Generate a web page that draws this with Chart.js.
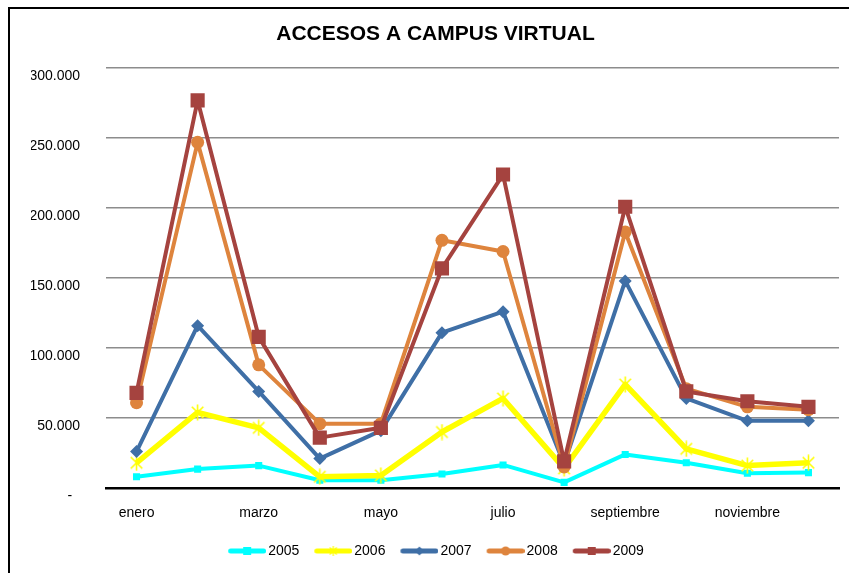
<!DOCTYPE html>
<html><head><meta charset="utf-8">
<script src="https://cdn.jsdelivr.net/npm/chart.js@4"></script>
<style>
html,body{margin:0;padding:0;background:#fff;overflow:hidden;width:849px;height:573px;}
#frame{position:absolute;left:8px;top:7px;width:900px;height:700px;border:2px solid #000;box-sizing:border-box;}
#wrap{position:absolute;left:0;top:0;width:849px;height:573px;}
</style></head><body>
<div id="frame"></div>
<div id="wrap"><canvas id="c" width="849" height="573"></canvas></div>
<script>
// ---- data ----
const months = ['enero','febrero','marzo','abril','mayo','junio','julio','agosto','septiembre','octubre','noviembre','diciembre'];
const xTickLabels = ['enero','','marzo','','mayo','','julio','','septiembre','','noviembre',''];
const yTickLabels = ['-  ','50.000','100.000','150.000','200.000','250.000','300.000'];
const seriesNames = ['2005','2006','2007','2008','2009'];
const v2005 = [8000, 13500, 16000, 5500, 5500, 10000, 16500, 4000, 24000, 18000, 10500, 11000];
const v2006 = [18000, 54000, 43000, 8000, 9000, 40000, 64000, 14000, 74000, 28000, 16000, 18000];
const v2007 = [26000, 116000, 69000, 21000, 41000, 111000, 126000, 17000, 148000, 64000, 48000, 48000];
const v2008 = [61000, 247000, 88000, 46000, 46000, 177000, 169000, 15000, 183000, 71000, 58000, 56000];
const v2009 = [68000, 277000, 108000, 36000, 43000, 157000, 224000, 19000, 201000, 69000, 62000, 58000];

// ---- styles ----
const FONT = "'Liberation Sans', Arial, sans-serif";
Chart.defaults.font.family = FONT;
Chart.defaults.color = '#000';
const colors = ['#00FFFF','#FFFF00','#3F6FA6','#DE843D','#A5433F'];
const widths = [4, 5.5, 4, 4, 4];
const markers = ['rect','star','diamond','circle','rect'];

function starImg(color, size, lw) {
  const c = document.createElement('canvas'); c.width = size; c.height = size;
  const g = c.getContext('2d'); g.strokeStyle = color; g.lineWidth = lw;
  const m = size/2, r = size/2 - 0.5, d = r*0.72;
  g.beginPath();
  g.moveTo(m-d, m-d); g.lineTo(m+d, m+d);
  g.moveTo(m+d, m-d); g.lineTo(m-d, m+d);
  g.moveTo(m, m-r); g.lineTo(m, m+r);
  g.stroke();
  return c;
}
function legendImg(color, lw, marker) {
  const W = 44, H = 14, x0 = 6, cx = 6 + 19, cy = 7;
  const c = document.createElement('canvas'); c.width = W; c.height = H;
  const g = c.getContext('2d');
  g.strokeStyle = color; g.lineWidth = lw; g.lineCap = 'round';
  g.beginPath(); g.moveTo(x0 + lw/2, cy); g.lineTo(W - lw/2, cy); g.stroke();
  g.fillStyle = color;
  if (marker === 'rect') { g.fillRect(cx-4, cy-4, 8, 8); }
  else if (marker === 'circle') { g.beginPath(); g.arc(cx, cy, 4.5, 0, 2*Math.PI); g.fill(); }
  else if (marker === 'diamond') { g.beginPath(); g.moveTo(cx, cy-4.5); g.lineTo(cx+4.5, cy); g.lineTo(cx, cy+4.5); g.lineTo(cx-4.5, cy); g.closePath(); g.fill(); }
  else if (marker === 'star') {
    g.lineWidth = 1.2; g.lineCap = 'butt';
    g.beginPath();
    g.moveTo(cx-3.5, cy-3.5); g.lineTo(cx+3.5, cy+3.5);
    g.moveTo(cx+3.5, cy-3.5); g.lineTo(cx-3.5, cy+3.5);
    g.moveTo(cx, cy-5); g.lineTo(cx, cy+5);
    g.stroke();
  }
  return c;
}
const legendImgs = colors.map((c,i) => legendImg(c, 5, markers[i]));
const yellowStar = starImg('#FFFF00', 17, 1.6);

const seriesData = [v2005, v2006, v2007, v2008, v2009];
const pointStyles = ['rect', yellowStar, 'rectRot', 'circle', 'rect'];
const pointRadii = [5, 8, 6.5, 6.5, 10];

const datasets = seriesNames.map((name, i) => ({
  label: name,
  data: seriesData[i],
  borderColor: colors[i],
  backgroundColor: colors[i],
  borderWidth: widths[i],
  borderJoinStyle: 'round',
  pointStyle: pointStyles[i],
  pointRadius: pointRadii[i],
  pointBackgroundColor: colors[i],
  pointBorderColor: colors[i],
  pointBorderWidth: 0,
  tension: 0,
  order: 5 - i
}));

new Chart(document.getElementById('c'), {
  type: 'line',
  data: { labels: months, datasets },
  options: {
    responsive: false,
    animation: false,
    devicePixelRatio: 1,
    events: [],
    layout: { padding: { left: 31, right: 9, top: 0, bottom: 5 } },
    plugins: {
      tooltip: { enabled: false },
      title: {
        display: true,
        text: 'ACCESOS A CAMPUS VIRTUAL',
        color: '#000',
        font: { family: FONT, size: 21, weight: 'bold' },
        padding: { top: 22, bottom: 21 }
      },
      legend: {
        position: 'bottom',
        labels: {
          usePointStyle: true,
          pointStyleWidth: 34,
          boxHeight: 14,
          padding: 14,
          color: '#000',
          font: { family: FONT, size: 14 },
          generateLabels: (chart) => chart.data.datasets.map((ds, i) => ({
            text: ds.label,
            pointStyle: legendImgs[i],
            fillStyle: 'rgba(0,0,0,0)',
            strokeStyle: 'rgba(0,0,0,0)',
            lineWidth: 0,
            hidden: false,
            datasetIndex: i,
            fontColor: '#000'
          }))
        }
      }
    },
    scales: {
      x: {
        offset: true,
        grid: { display: true, color: 'rgba(0,0,0,0)', drawTicks: false },
        border: { display: true, color: '#000', width: 2.5 },
        ticks: {
          autoSkip: false, maxRotation: 0, minRotation: 0, padding: 17,
          color: '#000', font: { family: FONT, size: 14 },
          callback: (v, i) => xTickLabels[i]
        },
        afterFit: (s) => { s.height = 42; }
      },
      y: {
        min: 0, max: 300000,
        grid: {
          color: (ctx) => (ctx.tick && ctx.tick.value === 0) ? 'rgba(0,0,0,0)' : '#8C8C8C',
          lineWidth: 1.5, drawTicks: false
        },
        border: { display: false },
        ticks: {
          stepSize: 50000, padding: 26, labelOffset: 8,
          color: '#000', font: { family: FONT, size: 14 },
          callback: (v) => yTickLabels[Math.round(v / 50000)]
        },
        afterFit: (s) => { s.width = 75; }
      }
    }
  }
});
</script>
</body></html>
